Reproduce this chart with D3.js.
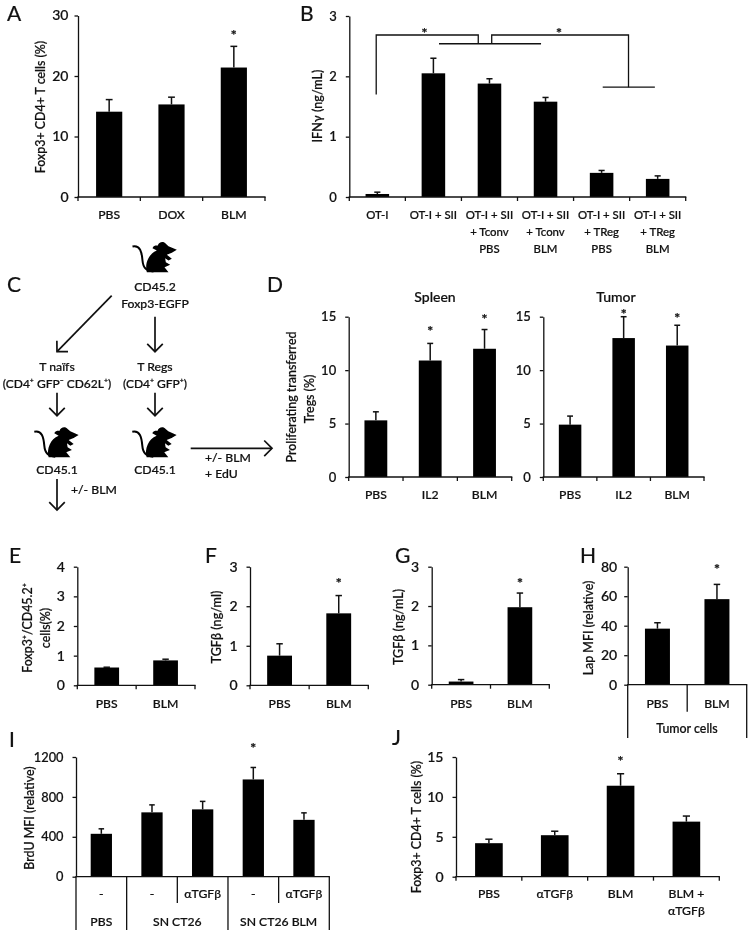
<!DOCTYPE html>
<html><head><meta charset="utf-8">
<script src="https://cdnjs.cloudflare.com/ajax/libs/d3/7.8.5/d3.min.js"></script>
<style>
html,body{margin:0;padding:0;background:#fff}
svg{display:block;filter:blur(0.35px)}
text{font-family:Lato,"Open Sans",sans-serif;fill:#111;font-weight:500;stroke:#111;stroke-width:0.22px}
</style></head><body><div id="chart"></div>
<script>
// ---------- data ----------
const catsA = ["PBS","DOX","BLM"];
const valsA = [14.1,15.3,21.4];
const topsA = [16.1,16.5,24.9];
const starsA = [null,null,26.8];
const ticksA = [0,10,20,30];

const catsB = [["OT-I"],["OT-I + SII"],["OT-I + SII","+ Tconv","PBS"],["OT-I + SII","+ Tconv","BLM"],["OT-I + SII","+ TReg","PBS"],["OT-I + SII","+ TReg","BLM"]];
const valsB = [0.05,2.05,1.88,1.58,0.40,0.30];
const topsB = [0.08,2.30,1.96,1.65,0.44,0.35];
const ticksB = [0,1,2,3];
const bracketLeft = [[0.48,1.70],[0.48,2.685],[2.30,2.685],[2.30,2.54]];
const bracketLeftBase = [[1.60,2.54],[3.42,2.54]];
const bracketRight = [[2.54,2.54],[2.54,2.685],[4.98,2.685],[4.98,1.82]];
const bracketRightBase = [[4.52,1.82],[5.45,1.82]];
const bracketStars = [[1.34,2.72],[3.74,2.72]];

const catsD = ["PBS","IL2","BLM"];
const valsSpleen = [5.3,10.9,12.0];
const topsSpleen = [6.1,12.5,13.8];
const starsSpleen = [null,13.75,14.8];
const valsTumor = [4.9,13.0,12.3];
const topsTumor = [5.7,15.0,14.2];
const starsTumor = [null,15.3,14.9];
const ticksD = [0,5,10,15];

const catsEH = ["PBS","BLM"];
const valsE = [0.60,0.84];
const topsE = [0.61,0.88];
const ticksE = [0,1,2,3,4];
const valsF = [0.75,1.82];
const topsF = [1.05,2.27];
const starsF = [null,2.61];
const valsG = [0.08,1.97];
const topsG = [0.13,2.33];
const starsG = [null,2.61];
const ticksFG = [0,1,2,3];
const valsH = [38,58];
const topsH = [42,68];
const starsH = [null,79];
const ticksH = [0,20,40,60,80];

const catsI = ["-","-","αTGFβ","-","αTGFβ"];
const groupsI = [["PBS",1],["SN CT26",2],["SN CT26 BLM",2]];
const valsI = [430,645,675,975,570];
const topsI = [480,720,755,1095,640];
const starsI = [null,null,null,1300,null];
const ticksI = [0,400,800,1200];

const catsJ = [["PBS"],["αTGFβ"],["BLM"],["BLM +","αTGFβ"]];
const valsJ = [4.2,5.2,11.4,6.9];
const topsJ = [4.7,5.7,12.9,7.6];
const starsJ = [null,null,14.6,null];
const ticksJ = [0,5,10,15];

// ---------- drawing ----------
const W=750,H=935;
const svg=d3.select("#chart").append("svg").attr("width",W).attr("height",H).attr("viewBox",[0,0,W,H]);
svg.append("rect").attr("width",W).attr("height",H).attr("fill","#fff");

function label(t,x,y,size,anchor){
  return svg.append("text").attr("x",x).attr("y",y).attr("font-size",size).attr("text-anchor",anchor||"middle").text(t);
}
function vtext(t,x,y,size){
  return svg.append("text").attr("transform",`translate(${x},${y}) rotate(-90)`).attr("font-size",size).attr("text-anchor","middle").text(t);
}
function rule(x1,y1,x2,y2,w){
  svg.append("line").attr("x1",x1).attr("y1",y1).attr("x2",x2).attr("y2",y2).attr("stroke","#111").attr("stroke-width",w||1.3);
}

function panel(o){
  const x=d3.scaleBand().domain(d3.range(o.vals.length)).range([o.x0,o.x1]).paddingInner(0.58).paddingOuter(0.29);
  const y=d3.scaleLinear().domain([0,o.max]).range([o.y0,o.y1]);
  const g=svg.append("g");
  const yAxis=d3.axisLeft(y).tickValues(o.ticks).tickSize(3.5).tickSizeOuter(0).tickPadding(o.tickPad||9).tickFormat(d3.format("d"));
  const ag=g.append("g").attr("transform",`translate(${o.x0},0)`).call(yAxis);
  ag.selectAll("text").attr("font-size",o.tickSize||13.5).style("font-family","Lato,sans-serif");
  ag.selectAll("line,path").attr("stroke","#111").attr("stroke-width",1.3);

  g.selectAll("rect.bar").data(o.vals).join("rect").attr("class","bar")
    .attr("x",(d,i)=>x(i)).attr("width",x.bandwidth())
    .attr("y",d=>y(d)).attr("height",d=>o.y0-y(d)).attr("fill","#000");
  // error bars
  const cap=x.bandwidth()*0.13;
  o.tops.forEach((t,i)=>{
    const cx=x(i)+x.bandwidth()/2;
    rule(cx,y(o.vals[i]),cx,y(t),1.5);
    rule(cx-cap,y(t),cx+cap,y(t),1.5);
  });
  // baseline
  rule(o.x0-0.6,o.y0,o.x1+0.6,o.y0,1.3);
  if(!o.noXTicks){
    d3.range(o.vals.length+1).forEach(i=>{
      const tx=o.x0+i*x.step();
      rule(tx,o.y0,tx,o.y0+4,1.3);
    });
  }
  // stars
  if(o.stars) o.stars.forEach((s,i)=>{
    if(s==null) return;
    label("*",x(i)+x.bandwidth()/2,y(s)+5.5,14).style("font-weight",700);
  });
  // category labels
  if(o.cats) o.cats.forEach((c,i)=>{
    const lines=Array.isArray(c)?c:[c];
    lines.forEach((l,k)=>label(l,x(i)+x.bandwidth()/2,o.labelY+k*(o.lineH||17),o.catSize||12.2));
  });
  return {x,y};
}

// Panel A
panel({x0:78,x1:265,y0:197,y1:15.5,max:30,vals:valsA,tops:topsA,stars:starsA,ticks:ticksA,cats:catsA,labelY:219,tickSize:14,tickPad:6});
vtext("Foxp3+ CD4+ T cells (%)",44.5,107,12.4);

// Panel B
const pB=panel({x0:349.3,x1:685.7,y0:197,y1:16,max:3,vals:valsB,tops:topsB,ticks:ticksB,cats:catsB,labelY:218.5,tickSize:13,catSize:11.4,tickPad:9});
vtext("IFNγ (ng/mL)",322,106,12.6);
const ux=d3.scaleLinear().domain([0,6]).range([349.3,685.7]);
const bLine=d3.line().x(d=>ux(d[0])).y(d=>pB.y(d[1]));
[bracketLeft,bracketLeftBase,bracketRight,bracketRightBase].forEach(p=>{
  svg.append("path").attr("d",bLine(p)).attr("fill","none").attr("stroke","#111").attr("stroke-width",1.3);
});
bracketStars.forEach(s=>label("*",ux(s[0]),pB.y(s[1])+5.5,14).style("font-weight",700));

// Panel D
panel({x0:348.7,x1:511.7,y0:477,y1:316.7,max:15,vals:valsSpleen,tops:topsSpleen,stars:starsSpleen,ticks:ticksD,cats:catsD,labelY:499,tickSize:13,tickPad:9});
panel({x0:543.3,x1:704,y0:477,y1:316.7,max:15,vals:valsTumor,tops:topsTumor,stars:starsTumor,ticks:ticksD,cats:catsD,labelY:499,tickSize:13,tickPad:9});
label("Spleen",435,302,14);
label("Tumor",616,301.5,14);
vtext("Proliferating transferred",296,397,12.4);
vtext("Tregs (%)",314,399,12.4);

// Panel E
panel({x0:77.3,x1:195,y0:685.3,y1:566.7,max:4,vals:valsE,tops:topsE,ticks:ticksE,cats:catsEH,labelY:708,tickSize:14,tickPad:9});
vtext("Foxp3⁺/CD45.2⁺",32,628,12.4);
vtext("cells(%)",50,628,12.4);

// Panel F
panel({x0:250,x1:368.3,y0:685.3,y1:566.7,max:3,vals:valsF,tops:topsF,stars:starsF,ticks:ticksFG,cats:catsEH,labelY:708,tickSize:14,tickPad:9});
vtext("TGFβ (ng/ml)",221,627,12.6);

// Panel G
panel({x0:431.7,x1:549.3,y0:684.7,y1:566.7,max:3,vals:valsG,tops:topsG,stars:starsG,ticks:ticksFG,cats:catsEH,labelY:708,tickSize:14,tickPad:9});
vtext("TGFβ (ng/mL)",403,627,12.6);

// Panel H
panel({x0:627.7,x1:746.7,y0:684.7,y1:566.7,max:80,vals:valsH,tops:topsH,stars:starsH,ticks:ticksH,cats:catsEH,labelY:708,tickSize:14,tickPad:7,noXTicks:true});
vtext("Lap MFI (relative)",593,628,12.4);
rule(627.7,684.7,627.7,738);
rule(687.2,684.7,687.2,711.7);
rule(746.7,684.7,746.7,738);
label("Tumor cells",687,733,12.4);

// Panel I
const pI=panel({x0:76,x1:329.3,y0:876.7,y1:757,max:1200,vals:valsI,tops:topsI,stars:starsI,ticks:ticksI,cats:catsI,labelY:898,tickSize:12.8,tickPad:9,noXTicks:true});
vtext("BrdU MFI (relative)",34,818,12.4);
{
  const step=pI.x.step();
  let k=0;
  rule(76,876.7,76,930);
  groupsI.forEach(([name,n])=>{
    if(n===2) rule(76+(k+1)*step,876.7,76+(k+1)*step,903);
    rule(76+(k+n)*step,876.7,76+(k+n)*step,930);
    label(name,76+(k+n/2)*step,925.7,12.2);
    k+=n;
  });
}

// Panel J
panel({x0:456,x1:719.3,y0:876.7,y1:757,max:15,vals:valsJ,tops:topsJ,stars:starsJ,ticks:ticksJ,cats:catsJ,labelY:898,tickSize:14,tickPad:9});
vtext("Foxp3+ CD4+ T cells (%)",421,827,12.4);

// Panel letters
[["A",7,21],["B",300,21],["C",7,291.7],["D",267,291.7],["E",9,563],["F",205,563],["G",395,563],["H",580,563],["I",9,747],["J",392,745]]
  .forEach(([t,x,y])=>label(t,x,y,21,"start").style("font-weight",400));

// Schematic C
function arrow(x1,y1,x2,y2){
  rule(x1,y1,x2,y2,1.7);
  const a=Math.atan2(y2-y1,x2-x1),h=11,s=Math.PI/4;
  svg.append("path").attr("fill","none").attr("stroke","#111").attr("stroke-width",1.7)
    .attr("d",`M${x2-h*Math.cos(a-s)},${y2-h*Math.sin(a-s)}L${x2},${y2}L${x2-h*Math.cos(a+s)},${y2-h*Math.sin(a+s)}`);
}
function mouse(px,py){
  const g=svg.append("g").attr("transform",`translate(${px},${py}) scale(0.3333) translate(-22,-18)`);
  g.append("path").attr("fill","none").attr("stroke","#000").attr("stroke-width",6)
    .attr("d","M22 33C45 28 50 50 52 75C54 100 65 105 85 108");
  g.append("path").attr("fill","#000")
    .attr("d","M65 110C58 85 70 55 95 45L82 38C85 28 95 30 98 30C100 20 115 15 122 25L130 32L155 43L140 52L125 58L140 70L130 75L120 68L122 80L135 88L125 92L118 95L130 110Z");
}
mouse(132.5,241.5);
mouse(34.3,426.7);
mouse(132.3,426.7);
label("CD45.2",155,291,12.2);
label("Foxp3-EGFP",155,308,12.2);
label("T naïfs",57,370.7,12.2);
label("(CD4⁺ GFP⁻ CD62L⁺)",57,388,12);
label("T Regs",155,370.7,12.2);
label("(CD4⁺ GFP⁺)",155,388,12);
label("CD45.1",57,474,12.2);
label("CD45.1",155,474,12.2);
label("+/- BLM",71,494,12.2,"start");
label("+/- BLM",205,462,12.2,"start");
label("+ EdU",205,478,12.2,"start");
arrow(111.7,295.7,57,351.7);
arrow(155,316.7,155,351.7);
arrow(57,392.7,57,415.7);
arrow(155,392.7,155,415.7);
arrow(57,479,57,510);
arrow(190.7,448.3,272,448.3);
</script></body></html>
